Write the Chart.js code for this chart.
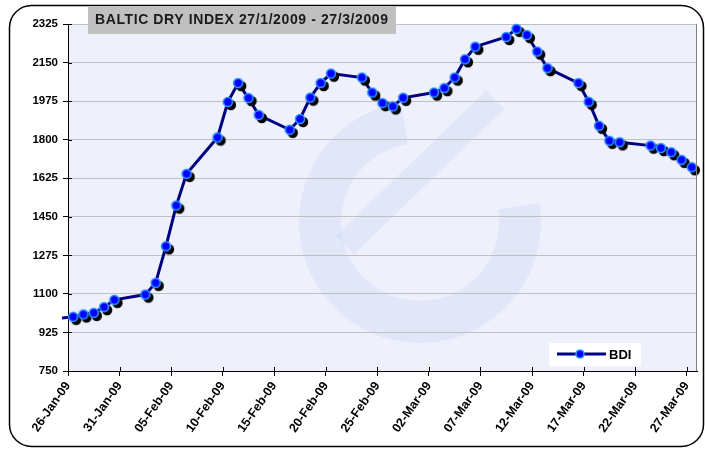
<!DOCTYPE html>
<html>
<head>
<meta charset="utf-8">
<script src="https://cdn.jsdelivr.net/npm/chart.js@4.4.1/dist/chart.umd.min.js"></script>
<style>
  html, body { margin: 0; padding: 0; background: #fff; }
  canvas { display: block; }
</style>
</head>
<body>
<canvas id="bdiChart" width="705" height="450"></canvas>
<script>
// BDI closing values, one per trading day (23-Jan is only there so the line enters from the left)
const dates = [
  '2009-01-23',
  '2009-01-26', '2009-01-27', '2009-01-28', '2009-01-29', '2009-01-30',
  '2009-02-02', '2009-02-03', '2009-02-04', '2009-02-05', '2009-02-06',
  '2009-02-09', '2009-02-10', '2009-02-11', '2009-02-12', '2009-02-13',
  '2009-02-16', '2009-02-17', '2009-02-18', '2009-02-19', '2009-02-20',
  '2009-02-23', '2009-02-24', '2009-02-25', '2009-02-26', '2009-02-27',
  '2009-03-02', '2009-03-03', '2009-03-04', '2009-03-05', '2009-03-06',
  '2009-03-09', '2009-03-10', '2009-03-11', '2009-03-12', '2009-03-13',
  '2009-03-16', '2009-03-17', '2009-03-18', '2009-03-19', '2009-03-20',
  '2009-03-23', '2009-03-24', '2009-03-25', '2009-03-26', '2009-03-27'
];
const bdi = [
  980,
  996, 1007, 1014, 1040, 1073,
  1097, 1150, 1316, 1501, 1645,
  1810, 1971, 2057, 1989, 1912,
  1845, 1894, 1991, 2057, 2100,
  2082, 2014, 1966, 1951, 1990,
  2014, 2034, 2082, 2165, 2222,
  2266, 2303, 2275, 2200, 2125,
  2057, 1972, 1863, 1795, 1788,
  1773, 1762, 1743, 1708, 1675
];
const tickLabels = ['26-Jan-09', '31-Jan-09', '05-Feb-09', '10-Feb-09', '15-Feb-09', '20-Feb-09',
  '25-Feb-09', '02-Mar-09', '07-Mar-09', '12-Mar-09', '17-Mar-09', '22-Mar-09', '27-Mar-09'];
const tickDays = [0, 5, 10, 15, 20, 25, 30, 35, 40, 45, 50, 55, 60];
const yTicks = [750, 925, 1100, 1275, 1450, 1625, 1800, 1975, 2150, 2325];
const chartTitle = 'BALTIC DRY INDEX 27/1/2009 - 27/3/2009';

const startDay = Date.UTC(2009, 0, 26);
const dayOf = s => (Date.parse(s + 'T00:00:00Z') - startDay) / 86400000;
// Excel date axis: each point sits in the middle of its day slot
const points = dates.map((d, i) => ({ x: dayOf(d) + 0.5, y: bdi[i] }));

const FONT = 'Arial, "Liberation Sans", sans-serif';

// marker with a hard black drop shadow
const marker = document.createElement('canvas');
marker.width = 24; marker.height = 24;
(function () {
  const c = marker.getContext('2d');
  c.fillStyle = '#000';
  c.beginPath(); c.arc(15, 15, 5.2, 0, Math.PI * 2); c.fill();
  c.fillStyle = '#0000ff';
  c.strokeStyle = '#2f95ff';
  c.lineWidth = 1.6;
  c.beginPath(); c.arc(12, 12, 4.5, 0, Math.PI * 2); c.fill(); c.stroke();
})();

const decor = {
  id: 'decor',
  beforeDraw(chart) {
    const { ctx, chartArea: a } = chart;
    ctx.save();
    ctx.fillStyle = '#fff';
    ctx.fillRect(0, 0, chart.width, chart.height);
    // outer rounded frame
    ctx.strokeStyle = '#000';
    ctx.lineWidth = 1.5;
    ctx.beginPath();
    ctx.roundRect(9.5, 5.5, 694, 441, 22);
    ctx.stroke();
    // plot background
    ctx.fillStyle = '#eef0fb';
    ctx.fillRect(a.left, a.top, a.right - a.left, a.bottom - a.top);
    // faint watermark ring
    ctx.beginPath();
    ctx.rect(a.left, a.top, a.right - a.left, a.bottom - a.top);
    ctx.clip();
    ctx.strokeStyle = 'rgba(205,218,248,0.4)';
    ctx.lineWidth = 42;
    ctx.beginPath();
    ctx.arc(420, 222, 100, -0.05 * Math.PI, 1.45 * Math.PI);
    ctx.stroke();
    ctx.lineWidth = 26;
    ctx.beginPath();
    ctx.moveTo(345, 245); ctx.lineTo(495, 100);
    ctx.stroke();
    ctx.restore();
  },
  afterDraw(chart) {
    const { ctx, chartArea: a, scales } = chart;
    ctx.save();
    // right frame of plot area
    ctx.strokeStyle = '#808080';
    ctx.lineWidth = 1;
    ctx.beginPath();
    ctx.moveTo(a.right - 0.5, a.top); ctx.lineTo(a.right - 0.5, a.bottom);
    ctx.stroke();
    // inner half of the cross tick marks
    ctx.strokeStyle = '#000';
    ctx.beginPath();
    yTicks.forEach(v => {
      const y = Math.round(scales.y.getPixelForValue(v)) + 0.5;
      ctx.moveTo(a.left, y); ctx.lineTo(a.left + 4, y);
    });
    tickDays.forEach(v => {
      const x = Math.round(scales.x.getPixelForValue(v)) + 0.5;
      ctx.moveTo(x, a.bottom); ctx.lineTo(x, a.bottom - 4);
    });
    ctx.stroke();

    // title box
    ctx.fillStyle = '#c0c0c0';
    ctx.fillRect(88, 6, 308, 28);
    ctx.fillStyle = '#1a1a1a';
    ctx.font = 'bold 14px ' + FONT;
    ctx.letterSpacing = '0.6px';
    ctx.textBaseline = 'middle';
    ctx.fillText(chartTitle, 95, 20);
    ctx.letterSpacing = '0px';

    // legend box
    ctx.fillStyle = '#fff';
    ctx.fillRect(549, 343, 92, 23);
    ctx.strokeStyle = '#000080';
    ctx.lineWidth = 3;
    ctx.beginPath();
    ctx.moveTo(557, 354); ctx.lineTo(606, 354);
    ctx.stroke();
    ctx.fillStyle = '#0000ff';
    ctx.strokeStyle = '#2f95ff';
    ctx.lineWidth = 1.6;
    ctx.beginPath(); ctx.arc(580, 354, 4, 0, Math.PI * 2); ctx.fill(); ctx.stroke();
    ctx.fillStyle = '#000';
    ctx.font = 'bold 13px ' + FONT;
    ctx.fillText('BDI', 609, 355);
    ctx.restore();
  }
};

new Chart(document.getElementById('bdiChart'), {
  type: 'line',
  data: {
    datasets: [{
      label: 'BDI',
      data: points,
      borderColor: '#000080',
      borderWidth: 3,
      tension: 0,
      pointStyle: marker,
      pointRadius: 5,
      pointHoverRadius: 5,
      clip: { left: 6, top: 12, right: 12, bottom: 12 }
    }]
  },
  options: {
    responsive: false,
    animation: false,
    devicePixelRatio: 1,
    layout: { padding: { top: 24, right: 5, left: 0, bottom: 0 } },
    plugins: {
      legend: { display: false },
      title: { display: false },
      tooltip: { enabled: false }
    },
    scales: {
      x: {
        type: 'linear',
        min: 0,
        max: 61,
        afterBuildTicks: s => { s.ticks = tickDays.map(v => ({ value: v })); },
        afterFit: s => { s.height = 79; },
        ticks: {
          autoSkip: false,
          minRotation: 55,
          maxRotation: 55,
          padding: 3,
          color: '#000',
          font: { family: FONT, size: 12.5, weight: 'bold' },
          callback: (v, i) => tickLabels[i]
        },
        grid: { drawOnChartArea: false, color: '#000', tickLength: 5 },
        border: { color: '#000', width: 1 }
      },
      y: {
        min: 750,
        max: 2325,
        afterBuildTicks: s => { s.ticks = yTicks.map(v => ({ value: v })); },
        afterFit: s => { s.width = 68; },
        ticks: {
          padding: 5,
          color: '#000',
          font: { family: FONT, size: 11.5, weight: 'bold' },
          callback: v => String(v)
        },
        grid: { color: '#c0c0c0', tickColor: '#000', tickLength: 5 },
        border: { color: '#000', width: 1 }
      }
    }
  },
  plugins: [decor]
});
</script>
</body>
</html>
